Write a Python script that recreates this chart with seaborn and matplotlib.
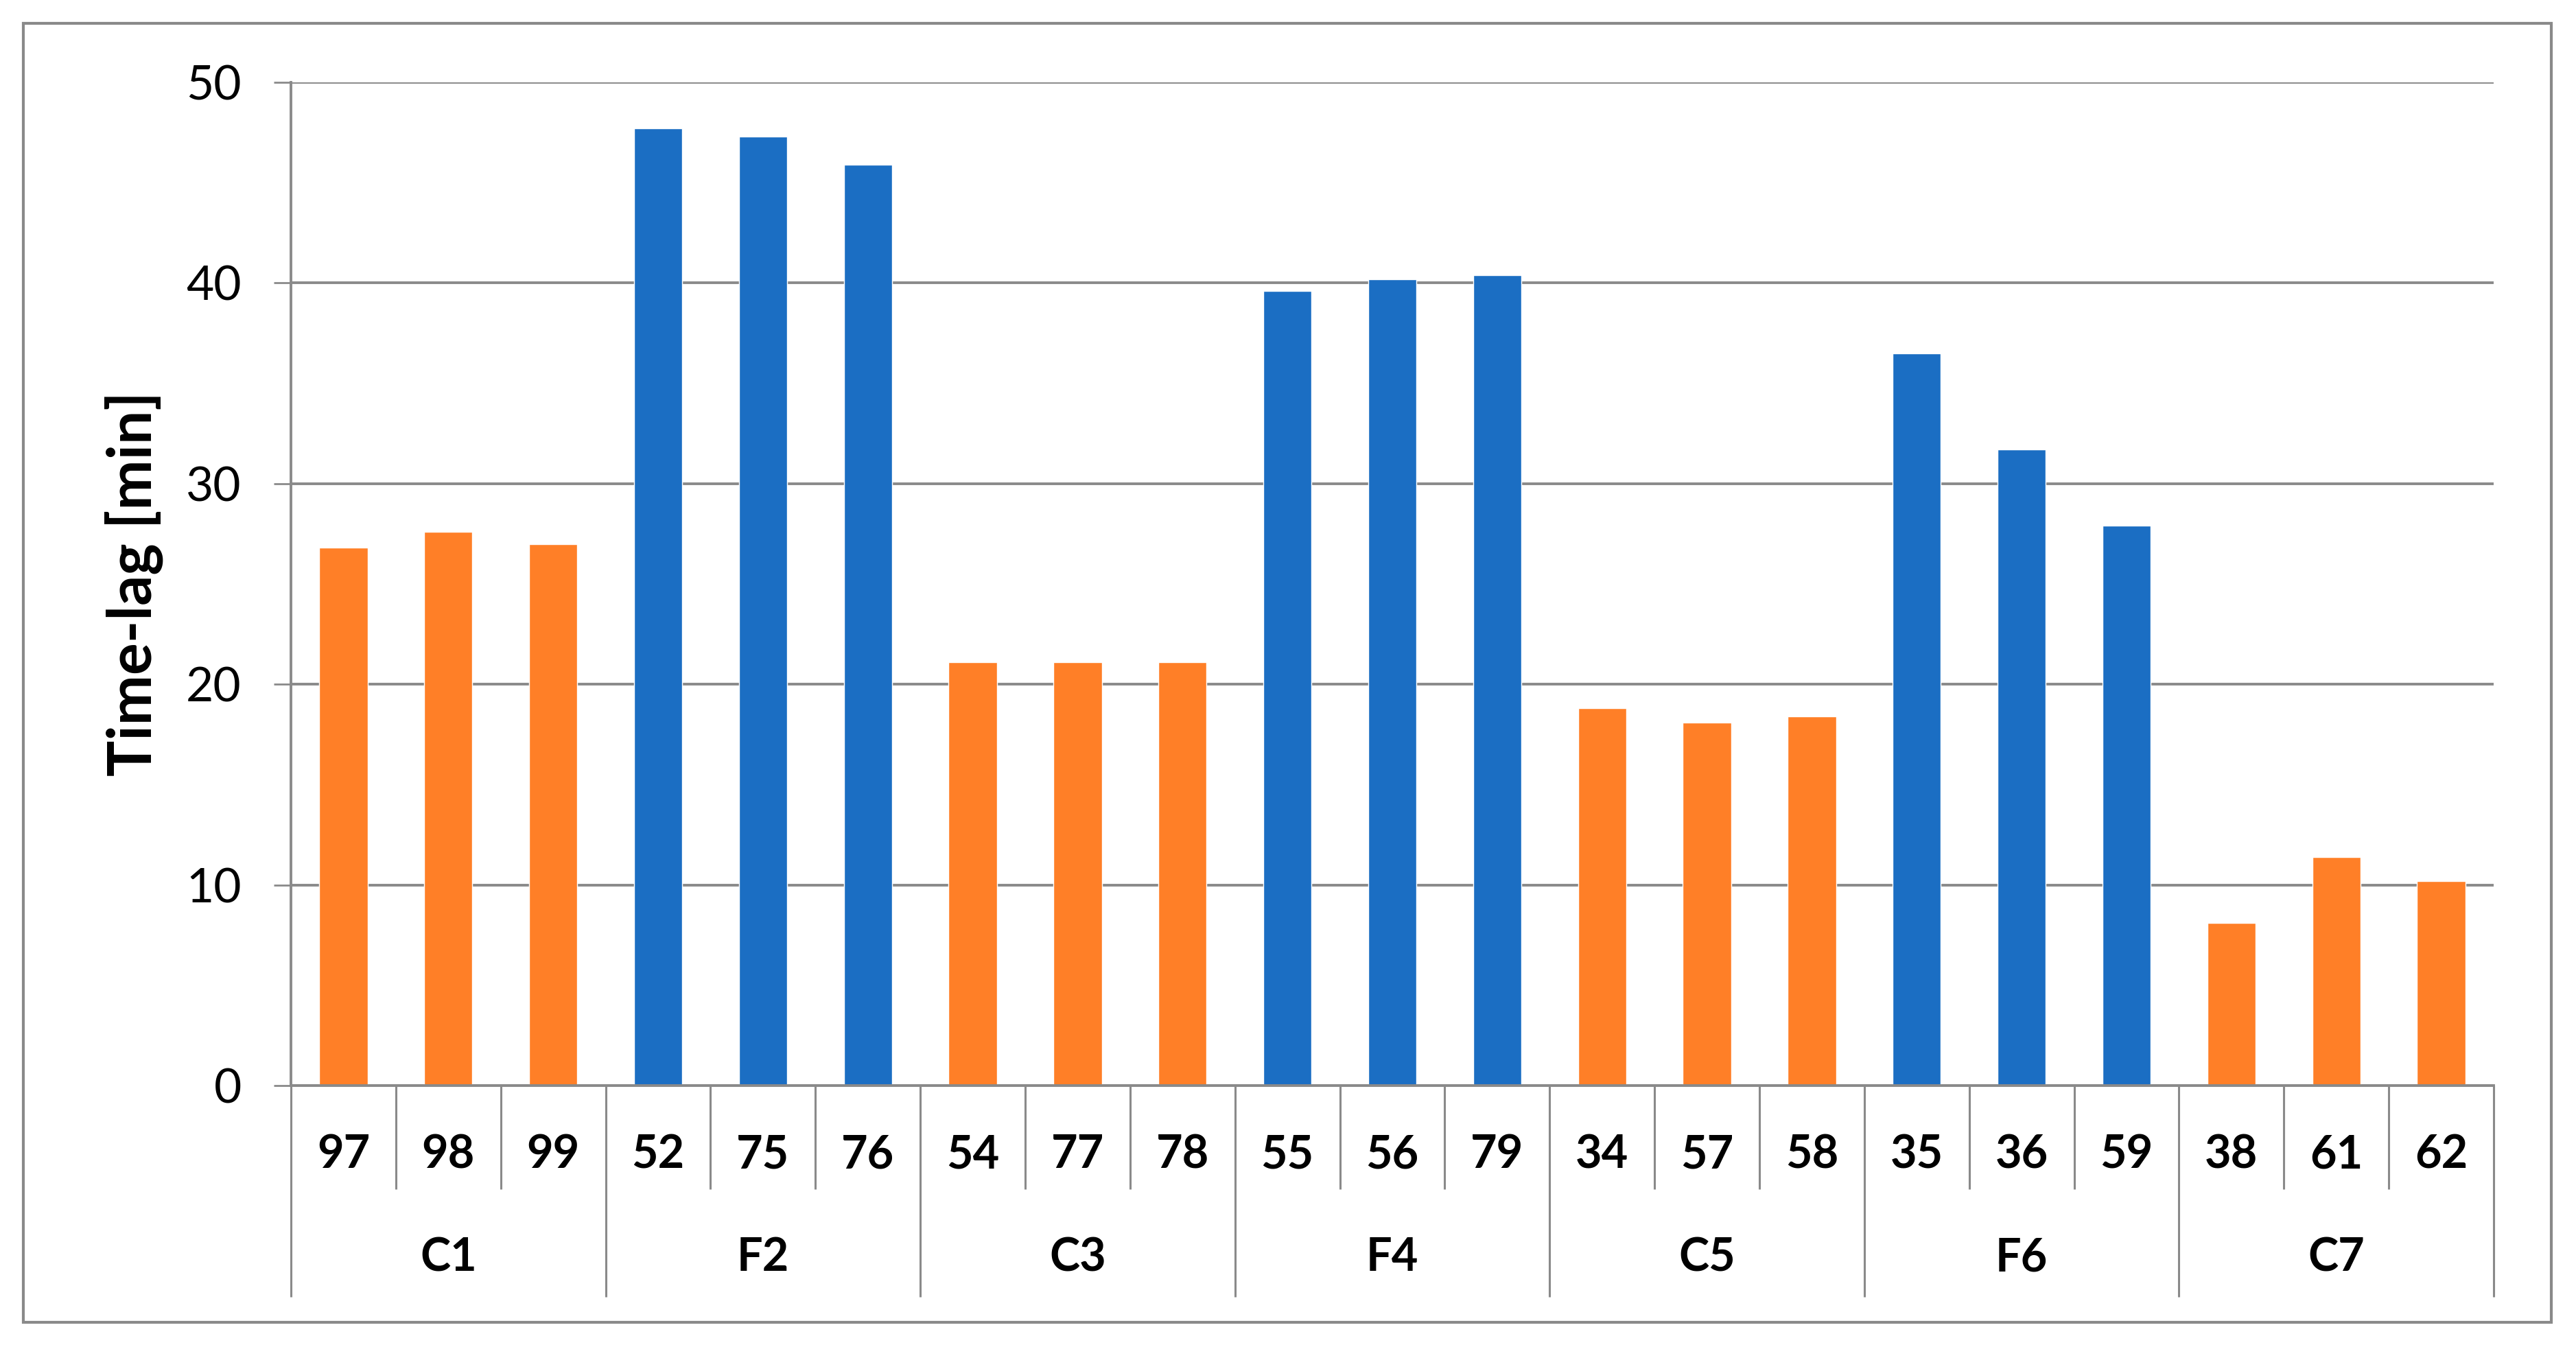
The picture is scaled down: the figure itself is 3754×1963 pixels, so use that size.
import matplotlib
matplotlib.use("Agg")
import matplotlib.pyplot as plt
import matplotlib.transforms as mtransforms
from matplotlib.patches import Rectangle
import seaborn as sns
import pandas as pd

# ---- data ----
groups = ["C1", "F2", "C3", "F4", "C5", "F6", "C7"]
group_types = ["C", "F", "C", "F", "C", "F", "C"]
sample_ids = [["97", "98", "99"], ["52", "75", "76"], ["54", "77", "78"],
              ["55", "56", "79"], ["34", "57", "58"], ["35", "36", "59"],
              ["38", "61", "62"]]
time_lag = [[26.8, 27.6, 27.0], [47.7, 47.3, 45.9], [21.1, 21.1, 21.1],
            [39.6, 40.2, 40.4], [18.8, 18.1, 18.4], [36.5, 31.7, 27.9],
            [8.1, 11.4, 10.2]]
y_ticks = [0, 10, 20, 30, 40, 50]
y_label = "Time-lag [min]"
palette = {"C": "#FF7F27", "F": "#1B6EC3"}

rows = []
for g, t, ids, vals in zip(groups, group_types, sample_ids, time_lag):
    for i, v in zip(ids, vals):
        rows.append({"group": g, "type": t, "id": i, "value": v})
df = pd.DataFrame(rows)
order = list(df["id"])

sns.set_theme(style="white")
plt.rcParams["font.family"] = ["Lato", "DejaVu Sans"]

W, H, DPI = 3754, 1963, 100
fig = plt.figure(figsize=(W / DPI, H / DPI), dpi=DPI)
fig.patch.set_facecolor("white")
ax = fig.add_axes([424 / W, 1 - 1582 / H, (3634 - 424) / W, (1582 - 120) / H])

sns.barplot(data=df, x="id", y="value", hue="type", order=order,
            palette=palette, dodge=False, width=0.46, legend=False,
            saturation=1.0, ax=ax)

grid_col = "#8a8a8a"
ax.set_ylim(0, 50)
ax.set_xlim(-0.5, len(order) - 0.5)
ax.set_yticks(y_ticks)
ax.set_yticklabels([str(v) for v in y_ticks], fontsize=50)
ax.yaxis.grid(True, color=grid_col, linewidth=2.8)
ax.set_axisbelow(True)
for s in ["top", "right"]:
    ax.spines[s].set_visible(False)
for s in ["left", "bottom"]:
    ax.spines[s].set_color(grid_col)
    ax.spines[s].set_linewidth(2.8)
ax.tick_params(axis="y", which="major", left=True, length=18, width=2,
               color=grid_col, pad=34, labelcolor="black")

ax.set_xlabel("")
ax.set_ylabel(y_label, fontsize=63, fontweight="bold", color="black")
ax.yaxis.set_label_coords(-0.058, 0.5)

ax.tick_params(axis="x", length=0, pad=73)
for lab in ax.get_xticklabels():
    lab.set_fontsize(48)
    lab.set_fontweight("bold")
    lab.set_verticalalignment("center")
    lab.set_color("black")

trans = mtransforms.blended_transform_factory(ax.transData, ax.transAxes)
n = len(order)
# separators under the axis
for k in range(n + 1):
    xb = k - 0.5
    is_group = (k % 3 == 0)
    y_end = -0.211 if is_group else -0.103
    ax.plot([xb, xb], [0, y_end], transform=trans, color=grid_col,
            linewidth=2.2, clip_on=False, solid_capstyle="butt")
# group labels
for gi, g in enumerate(groups):
    ax.text(gi * 3 + 1, -0.172, g, transform=trans, ha="center", va="center",
            fontsize=48, fontweight="bold", color="black")

# outer border
fig.patches.append(Rectangle((34 / W, 1 - 1927 / H), (3718 - 34) / W, (1927 - 34) / H,
                             transform=fig.transFigure, fill=False,
                             edgecolor=grid_col, linewidth=3))

fig.savefig("out.png", dpi=DPI, facecolor="white")
